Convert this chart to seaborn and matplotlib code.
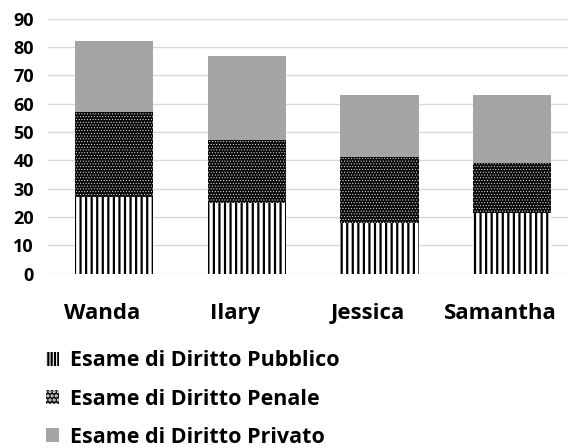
import numpy as np
import pandas as pd
import matplotlib
matplotlib.use("Agg")
import matplotlib.pyplot as plt
import matplotlib.transforms as mtransforms
from matplotlib.patches import Patch
import seaborn as sns

students = ["Wanda", "Ilary", "Jessica", "Samantha"]
pubblico = [27, 25, 18, 21.5]
penale = [30, 22, 23, 17.5]
privato = [25, 30, 22, 24]
y_ticks = [0, 10, 20, 30, 40, 50, 60, 70, 80, 90]

series_names = ["Esame di Diritto Pubblico", "Esame di Diritto Penale", "Esame di Diritto Privato"]

sns.set_theme(style="white")
plt.rcParams["font.family"] = ["Open Sans", "DejaVu Sans"]
plt.rcParams["text.color"] = "black"
plt.rcParams["hatch.linewidth"] = 1.6


def set_hatch_lw(patch, lw):
    if hasattr(patch, "set_hatch_linewidth"):
        patch.set_hatch_linewidth(lw)
    elif hasattr(patch, "_hatch_linewidth"):
        patch._hatch_linewidth = lw


df = pd.DataFrame({"student": students,
                   "pubblico": pubblico,
                   "penale": penale,
                   "privato": privato})
df["top_penale"] = df["pubblico"] + df["penale"]
df["top_privato"] = df["top_penale"] + df["privato"]

W, H = 568, 448
fig = plt.figure(figsize=(W / 100, H / 100), dpi=100)
ax = fig.add_axes([47.6 / W, (H - 273.5) / H, (W - 47.6) / W, 254.7 / H])

bw = 0.59
# stacked look: draw cumulative totals from tallest to shortest
sns.barplot(data=df, x="student", y="top_privato", color="#a5a5a5",
            width=bw, saturation=1, linewidth=0, ax=ax, zorder=2)
n0 = len(ax.patches)
sns.barplot(data=df, x="student", y="top_penale", color="#0a0a0a",
            width=bw, saturation=1, linewidth=0, ax=ax, zorder=3)
for p in ax.patches[n0:]:
    p.set_edgecolor("white")
    p.set_linewidth(0)
    p.set_hatch("......")
    set_hatch_lw(p, 0.35)
n1 = len(ax.patches)
sns.barplot(data=df, x="student", y="pubblico", color="white",
            width=bw, saturation=1, linewidth=0, ax=ax, zorder=4)
for p in ax.patches[n1:]:
    p.set_edgecolor("black")
    p.set_linewidth(0)
    p.set_hatch("|||")
    set_hatch_lw(p, 1.6)

ax.set_xlim(-0.5, 3.42)
ax.set_ylim(0, 90)
ax.set_yticks(y_ticks)
ax.set_yticklabels([str(t) for t in y_ticks])
ax.yaxis.grid(True, color="#d9d9d9", linewidth=1.0, zorder=0)
ax.set_axisbelow(True)
for s in ax.spines.values():
    s.set_visible(False)
ax.set_xlabel("")
ax.set_ylabel("")
ax.tick_params(axis="y", length=0, pad=10, labelsize=13, labelcolor="black")
ax.tick_params(axis="x", length=0, pad=21, labelsize=16, labelcolor="black")
shift = mtransforms.ScaledTranslation(-0.12, 0, fig.dpi_scale_trans)
for lab in ax.get_xticklabels():
    lab.set_fontweight("bold")
    lab.set_transform(lab.get_transform() + shift)
for lab in ax.get_yticklabels():
    lab.set_fontweight("bold")

handles = [
    Patch(facecolor="white", edgecolor="black", linewidth=0, hatch="|||||", label=series_names[0]),
    Patch(facecolor="#050505", edgecolor="white", linewidth=0, hatch="....", label=series_names[1]),
    Patch(facecolor="#a5a5a5", edgecolor="#a5a5a5", linewidth=0, label=series_names[2]),
]
set_hatch_lw(handles[0], 1.1)
set_hatch_lw(handles[1], 0.3)
leg = fig.legend(handles=handles, loc="upper left",
                 bbox_to_anchor=(27 / W, 1 - 331 / H),
                 frameon=False, handlelength=0.6, handleheight=0.6,
                 handletextpad=0.5, labelspacing=0.8, labelcolor="black",
                 prop={"weight": "bold", "size": 15.5})

fig.savefig("out.png", dpi=100, facecolor="white")
